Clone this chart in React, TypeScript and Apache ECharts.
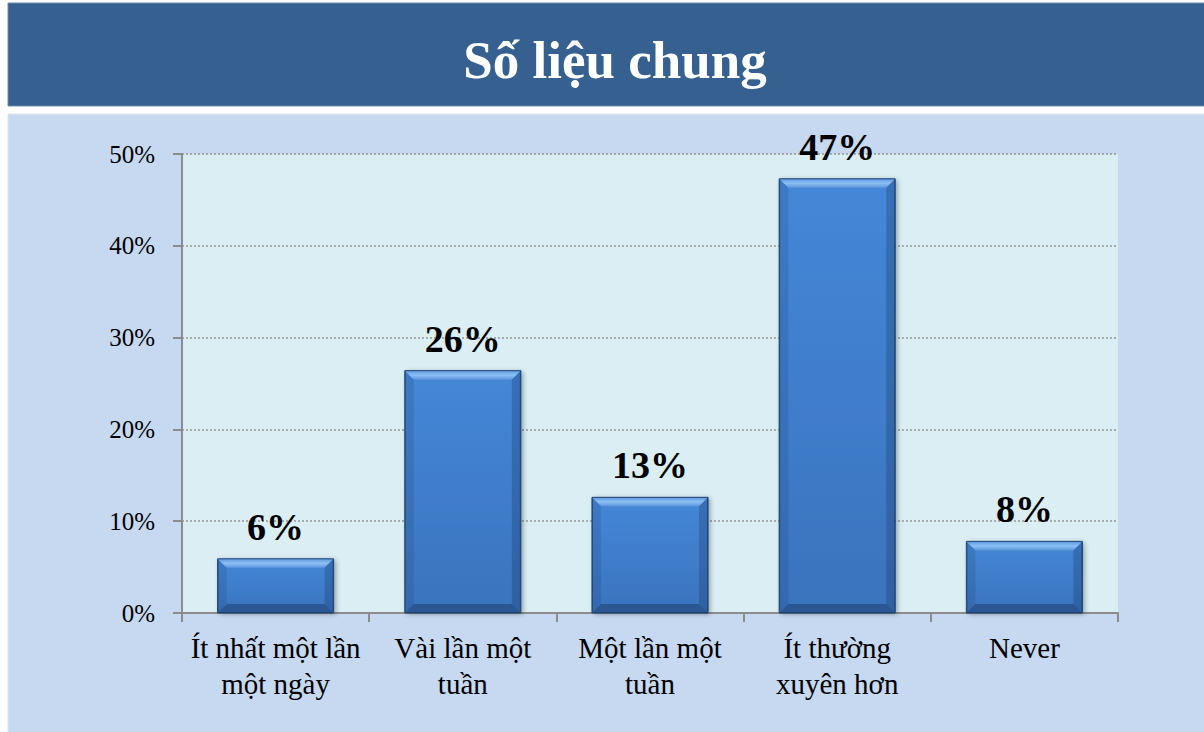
import React, { useEffect, useRef } from "react";
import * as echarts from "echarts";

const titleText = "Số liệu chung";
const categories = [
  "Ít nhất một lần\nmột ngày",
  "Vài lần một\ntuần",
  "Một lần một\ntuần",
  "Ít thường\nxuyên hơn",
  "Never",
];
const values = [5.9, 26.4, 12.6, 47.3, 7.8];
const yTicks = { min: 0, max: 50, interval: 10 };

const SERIF = "'Liberation Serif', 'DejaVu Serif', serif";

export default function App() {
  const ref = useRef<HTMLDivElement>(null);
  useEffect(() => {
    if (!ref.current) return;
    const chart = echarts.init(ref.current, null, { renderer: "svg" });
    const barRatio = 0.62;
    const option: any = {
      animation: false,
      backgroundColor: "#ffffff",
      graphic: [
        {
          type: "rect",
          shape: { x: 8, y: 3, width: 1200, height: 103 },
          style: { fill: "#35608F", stroke: "#6E8CB0", lineWidth: 1 },
          z: -10,
        },
        {
          type: "rect",
          shape: { x: 8, y: 114, width: 1200, height: 622 },
          style: { fill: "#C6D9F0", stroke: "#DCE6F2", lineWidth: 1 },
          z: -10,
        },
        {
          type: "text",
          x: 615,
          y: 60,
          style: {
            text: titleText,
            fill: "#ffffff",
            font: `bold 53px ${SERIF}`,
            textAlign: "center",
            textVerticalAlign: "middle",
          },
          z: 10,
        },
      ],
      grid: {
        left: 182,
        right: 86,
        top: 154,
        bottom: 119,
        show: true,
        backgroundColor: "#DAEEF3",
        borderWidth: 0,
      },
      xAxis: {
        type: "category",
        data: categories,
        axisLine: { show: true, lineStyle: { color: "#8C8C8C", width: 2 } },
        axisTick: { show: true, length: 9, alignWithLabel: false, lineStyle: { color: "#8C8C8C", width: 2 } },
        axisLabel: {
          interval: 0,
          margin: 17,
          fontFamily: SERIF,
          fontSize: 29,
          lineHeight: 36,
          color: "#000000",
        },
      },
      yAxis: {
        type: "value",
        min: yTicks.min,
        max: yTicks.max,
        interval: yTicks.interval,
        axisLine: { show: true, lineStyle: { color: "#8C8C8C", width: 2 } },
        axisTick: { show: true, length: 9, lineStyle: { color: "#8C8C8C", width: 2 } },
        axisLabel: {
          formatter: "{value}%",
          margin: 27,
          fontFamily: SERIF,
          fontSize: 25,
          color: "#000000",
        },
        splitLine: {
          show: true,
          lineStyle: { color: "#959595", width: 1.5, type: [2, 2] },
        },
      },
      series: [
        {
          type: "bar",
          data: values,
          barWidth: `${barRatio * 100}%`,
          itemStyle: {
            color: new echarts.graphic.LinearGradient(0, 0, 0, 1, [
              { offset: 0, color: "#4587D8" },
              { offset: 1, color: "#3A73BD" },
            ]),
            borderColor: "#24507F",
            borderWidth: 1,
            shadowBlur: 5,
            shadowColor: "rgba(0,0,0,0.35)",
            shadowOffsetX: 2,
            shadowOffsetY: 1,
          },
          label: {
            show: true,
            position: "top",
            distance: 13,
            formatter: (p: any) => `${Math.round(p.value)}%`,
            fontFamily: SERIF,
            fontSize: 38,
            fontWeight: "bold",
            color: "#000000",
          },
          z: 2,
        },
        {
          type: "custom",
          data: values.map((v, i) => [i, v]),
          encode: { x: 0, y: 1 },
          silent: true,
          z: 3,
          renderItem: (params: any, api: any) => {
            const i = api.value(0);
            const v = api.value(1);
            const top = api.coord([i, v]);
            const base = api.coord([i, 0]);
            const w = api.size([1, 0])[0] * barRatio;
            const x0 = top[0] - w / 2;
            const x1 = top[0] + w / 2;
            const y0 = top[1];
            const y1 = base[1];
            const b = Math.min(9, (y1 - y0) / 3);
            return {
              type: "group",
              children: [
                {
                  type: "polygon",
                  shape: { points: [[x0, y0], [x1, y0], [x1 - b, y0 + b], [x0 + b, y0 + b]] },
                  style: {
                    fill: new echarts.graphic.LinearGradient(0, 0, 0, 1, [
                      { offset: 0, color: "#5D98DE" },
                      { offset: 0.5, color: "#8CC0F4" },
                      { offset: 1, color: "#5B95DC" },
                    ]),
                  },
                },
                {
                  type: "polygon",
                  shape: { points: [[x0, y0], [x0 + b, y0 + b], [x0 + b, y1 - b], [x0, y1]] },
                  style: { fill: "rgba(25,60,110,0.18)" },
                },
                {
                  type: "polygon",
                  shape: { points: [[x1, y0], [x1 - b, y0 + b], [x1 - b, y1 - b], [x1, y1]] },
                  style: { fill: "rgba(20,50,95,0.28)" },
                },
                {
                  type: "polygon",
                  shape: { points: [[x0, y1], [x0 + b, y1 - b], [x1 - b, y1 - b], [x1, y1]] },
                  style: { fill: "rgba(15,40,80,0.38)" },
                },
                {
                  type: "rect",
                  shape: { x: x0, y: y0, width: w, height: y1 - y0 },
                  style: { fill: "none", stroke: "#21497A", lineWidth: 1 },
                },
              ],
            };
          },
        },
      ],
    };
    chart.setOption(option);
    return () => chart.dispose();
  }, []);
  return (
    <div
      ref={ref}
      style={{ position: "absolute", left: 0, top: 0, width: 1204, height: 732 }}
    />
  );
}
